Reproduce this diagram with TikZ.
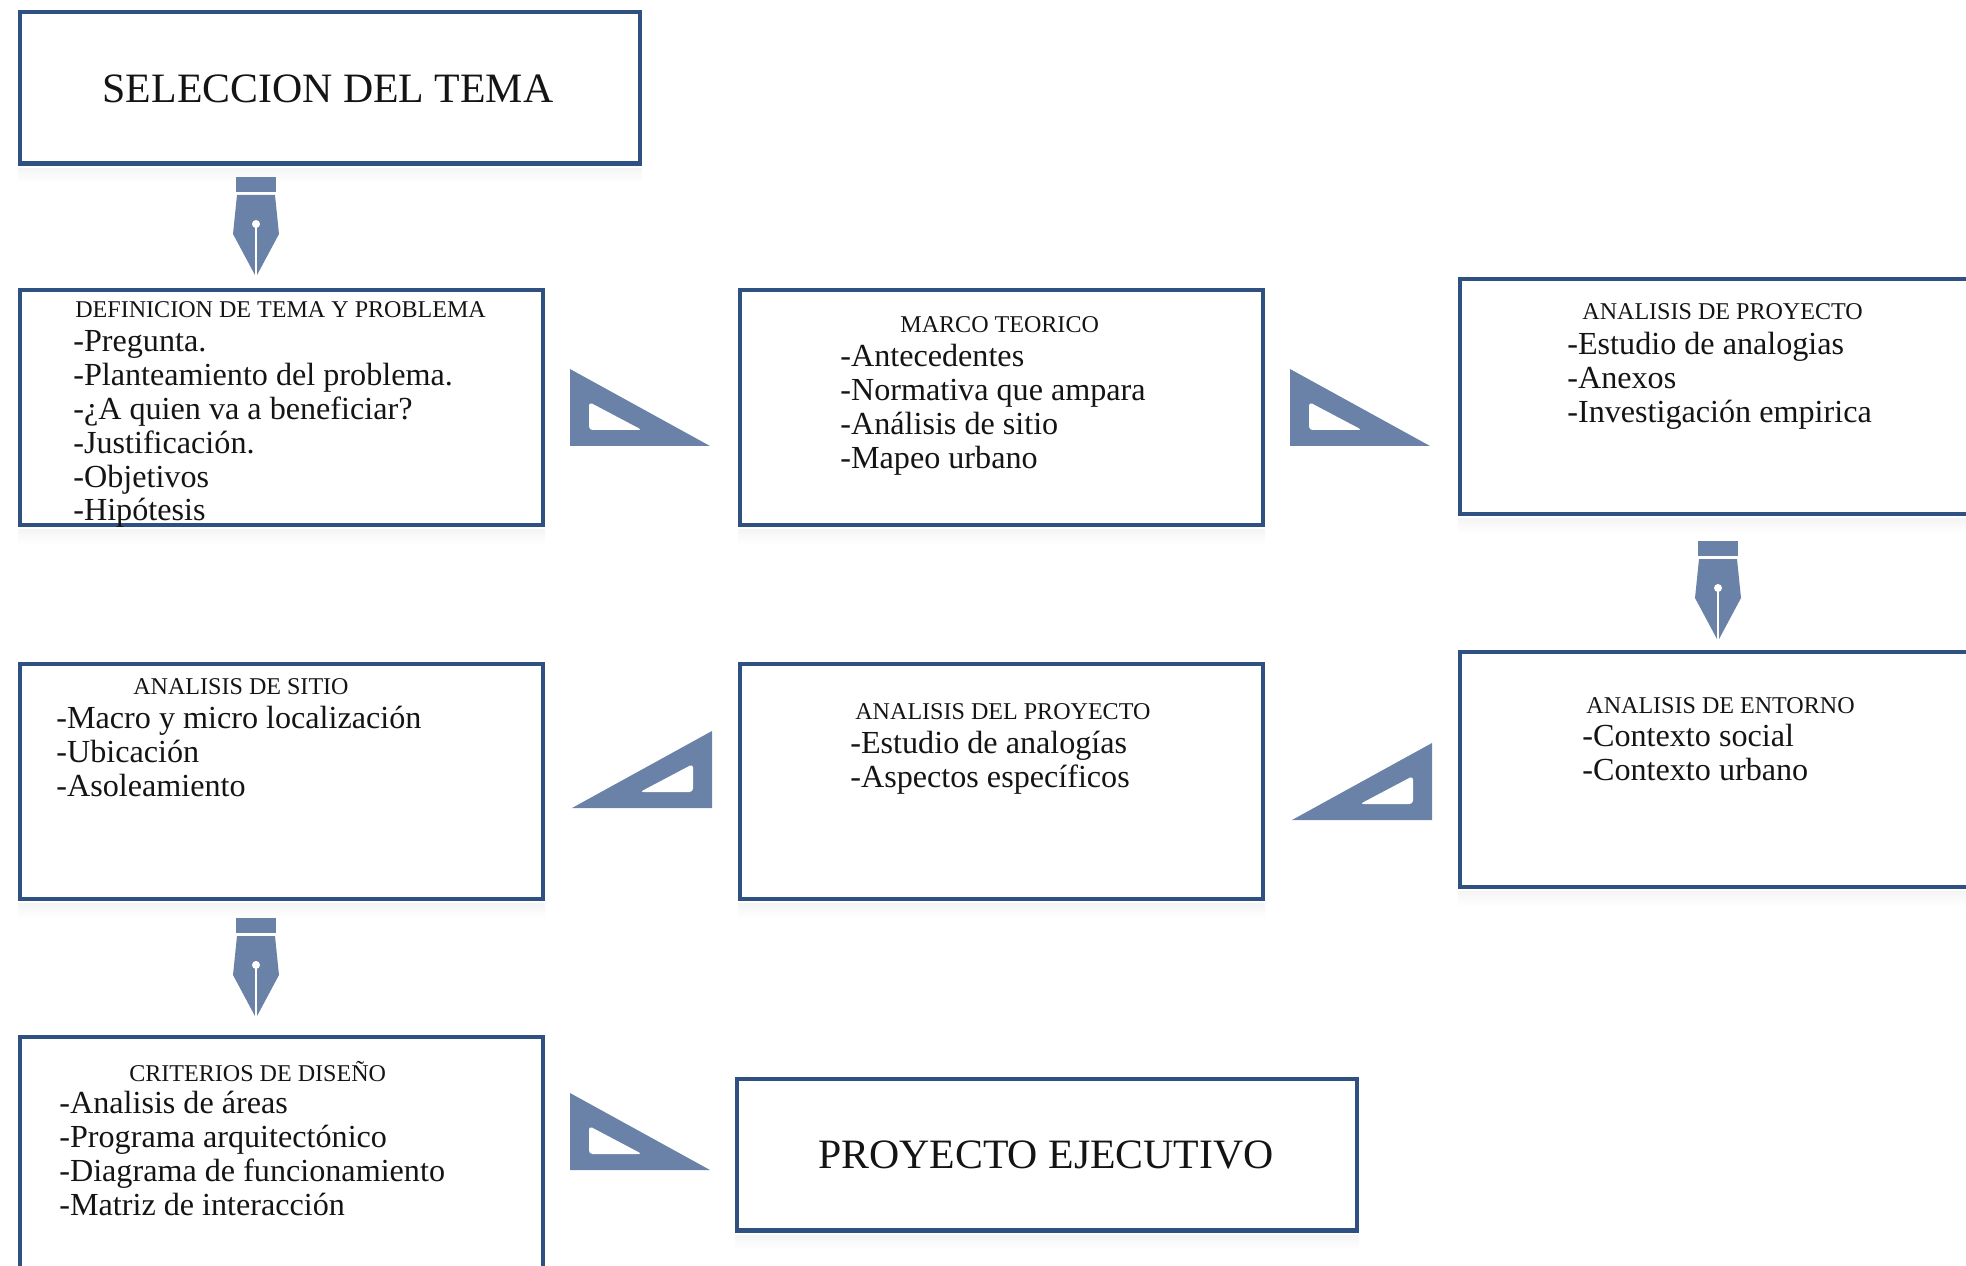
\documentclass[tikz,border=0pt]{standalone}
\usepackage{fontspec}
\setmainfont{Liberation Serif}
\definecolor{boxline}{HTML}{2F5181}
\definecolor{iconblue}{HTML}{6A82A7}
\definecolor{textink}{HTML}{141414}
\tikzset{
	nibicon/.pic={
		\fill[iconblue] (-20,0) rectangle (20,15);
		\fill[iconblue] (-19,18) -- (19,18) -- (23,57) -- (0,100) -- (-23,57) -- cycle;
		\draw[white,line width=0.7pt] (0,47) -- (0,100);
		\fill[white] (0,47) circle (4);
	},
	squareicon/.pic={
		\fill[iconblue] (0,0) -- (0,77) -- (140,77) -- cycle;
		\fill[white,rounded corners=2pt] (19,33) -- (19,61) -- (72,61) -- cycle;
	}
}
\begin{document}
\begin{tikzpicture}[%
    x=0.02cm,y=-0.02cm,
    panel/.style={rectangle,draw=boxline,line width=2.4pt,anchor=north west,minimum width=10.46cm,minimum height=4.7cm},
    widepanel/.style={panel,minimum width=12.4cm,minimum height=3.03cm},
    bigtitle/.style={font=\fontsize{23.8}{26}\selectfont,text=textink,inner sep=0pt},
    heading/.style={font=\fontsize{13.7}{16}\selectfont,text=textink,inner sep=0pt,anchor=west},
    items/.style={font=\fontsize{18.3}{19.3}\selectfont,text=textink,inner sep=0pt,anchor=north west,align=left}
  ]
		\useasboundingbox (0,0) rectangle (1966,1266);
		\clip (0,0) rectangle (1966,1266);

		\node at (18,10) [widepanel] (tema) {};
		\node at (18,288) [panel] (definicion) {};
		\node at (738,288) [panel] (marco) {};
		\node at (1458,277) [panel] (proyecto) {};
		\node at (1458,650) [panel] (entorno) {};
		\node at (738,662) [panel] (analisis) {};
		\node at (18,662) [panel] (sitio) {};
		\node at (18,1035) [panel] (criterios) {};
		\node at (735,1077) [widepanel] (ejecutivo) {};

		\foreach \b in {tema,definicion,marco,proyecto,entorno,analisis,sitio,ejecutivo}
			\shade[top color=black!4,bottom color=white] ([yshift=-0.05cm]\b.south west) rectangle ([yshift=-0.34cm]\b.south east);

		\node at (328,89) [bigtitle] (tematxt) {SELECCION DEL TEMA};
		\node at (1046,1155) [bigtitle] (ejecutivotxt) {PROYECTO EJECUTIVO};

		\node at (75,310) [heading] (h1) {DEFINICION DE TEMA Y PROBLEMA};
		\node at (73,330) [items] (l1) {-Pregunta.\\-Planteamiento del problema.\\-¿A quien va a beneficiar?\\-Justificación.\\-Objetivos\\-Hipótesis};

		\node at (900,325) [heading] (h2) {MARCO TEORICO};
		\node at (840,344) [items] (l2) {-Antecedentes\\-Normativa que ampara\\-Análisis de sitio\\-Mapeo urbano};

		\node at (1582,312) [heading] (h3) {ANALISIS DE PROYECTO};
		\node at (1567,332) [items] (l3) {-Estudio de analogias\\-Anexos\\-Investigación empirica};

		\node at (1586,706) [heading] (h4) {ANALISIS DE ENTORNO};
		\node at (1582,724) [items] (l4) {-Contexto social\\-Contexto urbano};

		\node at (855,712) [heading] (h5) {ANALISIS DEL PROYECTO};
		\node at (850,731) [items] (l5) {-Estudio de analogías\\-Aspectos específicos};

		\node at (133,687) [heading] (h6) {ANALISIS DE SITIO};
		\node at (56,706) [items] (l6) {-Macro y micro localización\\-Ubicación\\-Asoleamiento};

		\node at (129,1072) [heading] (h7) {CRITERIOS DE DISEÑO};
		\node at (59,1091) [items] (l7) {-Analisis de áreas\\-Programa arquitectónico\\-Diagrama de funcionamiento\\-Matriz de interacción};

		\pic (p1) at (256,177) {nibicon};
		\pic (p2) at (1718,541) {nibicon};
		\pic (p3) at (256,918) {nibicon};

		\pic (s1) at (570,369) {squareicon};
		\pic (s2) at (1290,369) {squareicon};
		\pic (s3) [xscale=-1] at (712,731) {squareicon};
		\pic (s4) [xscale=-1] at (1432,743) {squareicon};
		\pic (s5) at (570,1093) {squareicon};
	\end{tikzpicture}
\end{document}
